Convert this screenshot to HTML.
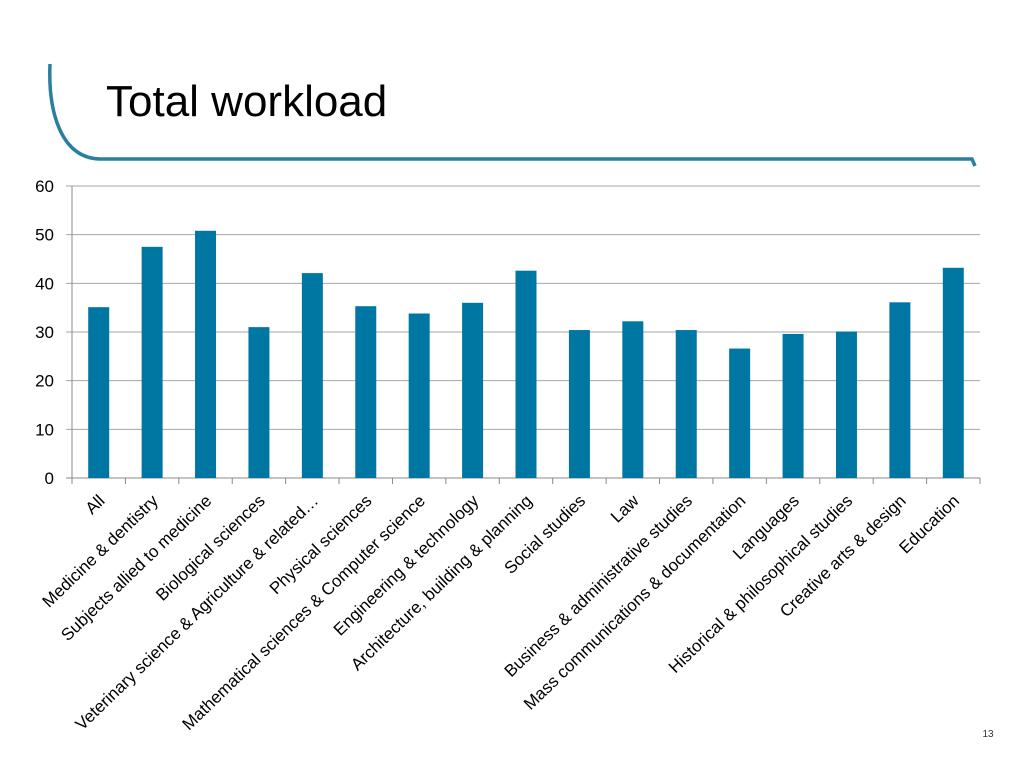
<!DOCTYPE html>
<html><head><meta charset="utf-8"><style>
body{margin:0;background:#fff;}
svg{display:block;font-family:"Liberation Sans",sans-serif;}
</style></head><body>
<svg width="1024" height="768" viewBox="0 0 1024 768">
<path d="M50,64 C48,110 60,158 100,159 L972,159 L975,166" fill="none" stroke="#2a7fa0" stroke-width="3.5"/>
<text x="106" y="116" font-size="44" fill="#000">Total workload</text>
<g id="chart"></g>
<text x="988" y="737" font-size="10" text-anchor="middle" fill="#333">13</text>
</svg>
<script>
const categories=["All","Medicine & dentistry","Subjects allied to medicine","Biological sciences","Veterinary science & Agriculture & related…","Physical sciences","Mathematical sciences & Computer science","Engineering & technology","Architecture, building & planning","Social studies","Law","Business & administrative studies","Mass communications & documentation","Languages","Historical & philosophical studies","Creative arts & design","Education"];
const values=[35.1,47.5,50.8,31,42.1,35.3,33.8,36,42.6,30.4,32.2,30.4,26.6,29.6,30.1,36.1,43.2];
const yTicks=[0,10,20,30,40,50,60];
const NS="http://www.w3.org/2000/svg";
const g=document.getElementById('chart');
const x0=72,x1=980,yTop=186,yBot=478,yMax=60;
const band=(x1-x0)/categories.length;
const y=v=>yBot-(v/yMax)*(yBot-yTop);
const xc=i=>x0+band*(i+0.5);
function mk(t,a){const e=document.createElementNS(NS,t);for(const k in a)e.setAttribute(k,a[k]);g.appendChild(e);return e;}
yTicks.forEach(t=>{
 const l=mk('line',{x1:x0-6,x2:x1,y1:y(t),y2:y(t),stroke:t===0?'#888':'#a6a6a6','stroke-width':1});
 
 
 const tx=mk('text',{x:x0-18,y:y(t)+6,'font-size':17,'text-anchor':'end',fill:'#000'});
 tx.textContent=t;
 
 
});
const ax=mk('line',{x1:x0,x2:x0,y1:yTop,y2:yBot,stroke:'#888'});


for(let i=0;i<=categories.length;i++){
 const t=mk('line',{x1:x0+band*i,x2:x0+band*i,y1:yBot,y2:yBot+6,stroke:'#888'});
 
 
}
categories.forEach((c,i)=>{
 const bw=21;
 const r=mk('rect',{x:xc(i)-bw/2,y:y(values[i]),width:bw,height:yBot-y(values[i]),fill:'#0076a3'});
 
 
 const tx=mk('text',{x:0,y:0,'font-size':17,'text-anchor':'end',fill:'#000',transform:`translate(${xc(i)+7},${yBot+24}) rotate(-44)`});
 tx.textContent=c;
 
 
});
</script>
</body></html>
